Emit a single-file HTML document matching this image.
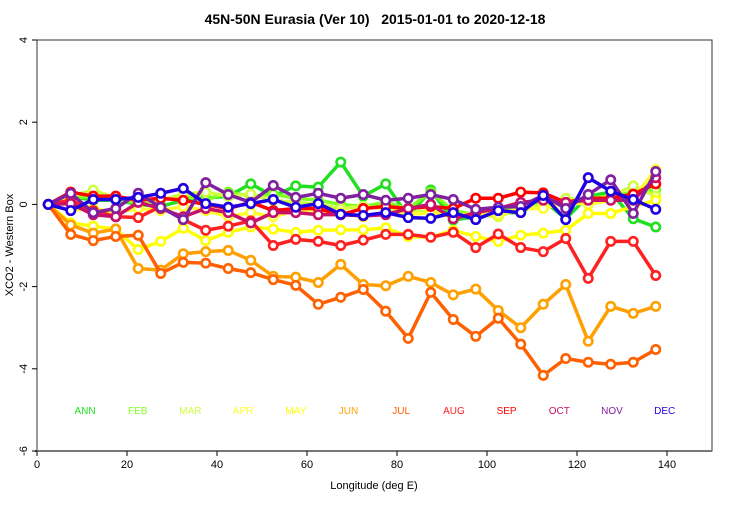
<!DOCTYPE html>
<html><head><meta charset="utf-8"><style>
body{margin:0;background:#fff}
svg text{font-family:"Liberation Sans",sans-serif}
</style></head><body>
<svg id="c" width="750" height="500" xmlns="http://www.w3.org/2000/svg">
<rect width="750" height="500" fill="#fff"/>
<text x="375" y="24" text-anchor="middle" font-size="14" font-weight="bold" style="white-space:pre">45N-50N Eurasia (Ver 10)   2015-01-01 to 2020-12-18</text>
<text x="374" y="489" text-anchor="middle" font-size="11">Longitude (deg E)</text>
<text transform="translate(13,245) rotate(-90)" text-anchor="middle" font-size="11">XCO2 - Western Box</text>
<g id="axes"></g><g id="series"></g><g id="legend"></g>
</svg>
<script>
const months=["ANN","FEB","MAR","APR","MAY","JUN","JUL","AUG","SEP","OCT","NOV","DEC"];
const colors=["#20e020","#80ff20","#d0ff40","#ffff30","#ffff00","#ffa000","#ff6000","#ff2020","#ff0000","#c8106a","#8020a0","#2000e0"];
const lons=[2.5,7.5,12.5,17.5,22.5,27.5,32.5,37.5,42.5,47.5,52.5,57.5,62.5,67.5,72.5,77.5,82.5,87.5,92.5,97.5,102.5,107.5,112.5,117.5,122.5,127.5,132.5,137.5];
const xTicks=[0,20,40,60,80,100,120,140];
const yTicks=[4,2,0,-2,-4,-6];
const sANN=[0,0.2,0.1,0.1,0,-0.05,0.1,0.15,0.2,0.5,0.2,0.45,0.42,1.03,0.2,0.5,-0.3,0.35,-0.38,-0.3,-0.2,-0.2,0.1,-0.35,0.2,0.3,-0.35,-0.55];
const sFEB=[0,0.15,0.2,0.1,0.05,0.1,0.2,0.1,0.3,0.2,0.25,0.15,0.1,0.0,-0.05,0.05,-0.1,0.3,-0.15,-0.25,-0.1,-0.15,0.0,0.1,0.15,0.2,0.3,0.35];
const sMAR=[0,0.2,0.35,0.15,0.1,0.1,0.25,0.3,0.2,0.25,0.1,0.05,0.0,-0.1,-0.05,-0.1,-0.2,-0.15,-0.3,-0.25,-0.3,-0.1,0.0,0.15,0.1,0.2,0.45,0.2];
const sAPR=[0,-0.15,-0.1,-0.2,-0.1,-0.15,-0.05,-0.15,-0.3,-0.2,-0.3,-0.15,-0.2,-0.2,-0.3,-0.2,-0.25,-0.2,-0.3,-0.2,-0.25,-0.1,-0.1,0.05,0.0,0.1,0.15,0.85];
const sMAY=[0,-0.45,-0.53,-0.6,-1.1,-0.9,-0.58,-0.88,-0.68,-0.55,-0.6,-0.68,-0.63,-0.62,-0.62,-0.57,-0.78,-0.8,-0.63,-0.78,-0.9,-0.75,-0.7,-0.63,-0.22,-0.22,-0.05,0.1];
const sJUN=[0,-0.5,-0.7,-0.6,-1.56,-1.6,-1.2,-1.15,-1.12,-1.36,-1.75,-1.77,-1.9,-1.46,-1.95,-1.98,-1.75,-1.9,-2.2,-2.06,-2.58,-3.0,-2.43,-1.95,-3.33,-2.48,-2.65,-2.48];
const sJUL=[0,-0.73,-0.88,-0.78,-0.75,-1.68,-1.41,-1.43,-1.56,-1.66,-1.83,-1.97,-2.43,-2.26,-2.07,-2.6,-3.26,-2.14,-2.8,-3.21,-2.77,-3.4,-4.16,-3.75,-3.84,-3.89,-3.84,-3.53];
const sAUG=[0,0.1,-0.15,-0.3,-0.32,-0.05,-0.37,-0.63,-0.53,-0.4,-1.0,-0.85,-0.9,-1.0,-0.87,-0.73,-0.73,-0.8,-0.68,-1.05,-0.72,-1.05,-1.15,-0.83,-1.8,-0.9,-0.9,-1.73];
const sSEP=[0,0.3,0.2,0.2,0.1,0.15,0.1,0.0,-0.1,0.05,-0.15,-0.1,-0.1,-0.25,-0.1,-0.05,-0.1,-0.05,-0.1,0.15,0.15,0.3,0.28,0.05,0.15,0.15,0.25,0.5];
const sOCT=[0,0.02,-0.25,-0.3,0.05,-0.1,-0.3,-0.1,-0.2,-0.45,-0.2,-0.2,-0.25,-0.25,-0.28,-0.25,-0.1,0.0,-0.35,-0.2,-0.1,0.05,0.1,0.05,0.1,0.1,0.1,0.65];
const sNOV=[0,0.27,-0.2,-0.1,0.27,-0.07,-0.37,0.53,0.24,0.05,0.46,0.17,0.27,0.15,0.24,0.1,0.15,0.24,0.12,-0.12,-0.07,-0.05,0.22,-0.1,0.24,0.6,-0.22,0.8];
const sDEC=[0,-0.15,0.12,0.12,0.17,0.27,0.39,0.02,-0.07,0.02,0.12,-0.07,0.02,-0.24,-0.27,-0.2,-0.32,-0.34,-0.2,-0.37,-0.15,-0.2,0.22,-0.37,0.65,0.32,0.12,-0.12];
const allSeries=[sANN,sFEB,sMAR,sAPR,sMAY,sJUN,sJUL,sAUG,sSEP,sOCT,sNOV,sDEC];
const NS="http://www.w3.org/2000/svg";
const X0=37,X1=712,Y0=40,Y1=451;
const xs=v=>X0+(v-0)*(X1-X0)/150;
const ys=v=>Y1-(v+6)*(Y1-Y0)/10;
function mk(t,a,p){const e=document.createElementNS(NS,t);for(const k in a)e.setAttribute(k,a[k]);p.appendChild(e);return e;}
const ax=document.getElementById('axes');
const box=mk('rect',{x:X0,y:Y0,width:X1-X0,height:Y1-Y0,fill:'none',stroke:'#333','stroke-width':1},ax);


const xl=mk('line',{x1:X0-2,x2:X1,y1:Y1,y2:Y1,stroke:'#777','stroke-width':2},ax);


xTicks.forEach(t=>{
 const l=mk('line',{x1:xs(t),x2:xs(t),y1:Y1,y2:Y1+5,stroke:'#000'},ax);
 
 
 const tx=mk('text',{x:xs(t),y:Y1+17,'text-anchor':'middle','font-size':11},ax);tx.textContent=t;
 
 
});
yTicks.forEach(t=>{
 const l=mk('line',{x1:X0-5,x2:X0,y1:ys(t),y2:ys(t),stroke:'#000'},ax);
 
 
 const tx=mk('text',{x:0,y:0,'text-anchor':'middle','font-size':11,transform:'translate(27,'+ys(t)+') rotate(-90)'},ax);tx.textContent=t;
 
 
});
const sg=document.getElementById('series');
allSeries.forEach((s,i)=>{
 const g=mk('g',{},sg);
 
 
 const pl=mk('polyline',{points:s.map((v,j)=>xs(lons[j])+','+ys(v)).join(' '),fill:'none',stroke:colors[i],'stroke-width':3.5,'stroke-linejoin':'round'},g);
 
 
 s.forEach((v,j)=>{
  const c=mk('circle',{cx:xs(lons[j]),cy:ys(v),r:4.2,fill:'#fff',stroke:colors[i],'stroke-width':2.6},g);
  
  
 });
});
const lg=document.getElementById('legend');
months.forEach((m,i)=>{
 const t=mk('text',{x:85+i*52.7,y:414,'text-anchor':'middle','font-size':10,fill:colors[i]},lg);t.textContent=m;
 
 
});
</script>
</body></html>
